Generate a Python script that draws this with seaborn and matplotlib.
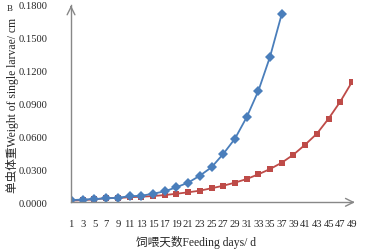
import matplotlib
matplotlib.use("Agg")
import matplotlib.pyplot as plt
import seaborn as sns
import pandas as pd

# feeding days (every other day shown on the axis)
days = [1, 3, 5, 7, 9, 11, 13, 15, 17, 19, 21, 23, 25, 27, 29, 31, 33, 35, 37,
        39, 41, 43, 45, 47, 49]

# blue series (diamonds), days 1-37
blue_days = days[:19]
blue_weight = [0.0020, 0.0025, 0.0030, 0.0035, 0.0042, 0.0055, 0.0060, 0.0078,
               0.0100, 0.0137, 0.0179, 0.0242, 0.0319, 0.0440, 0.0579, 0.0774,
               0.1014, 0.1326, 0.1715]

# red series (squares), days 1-49
red_weight = [0.0015, 0.0020, 0.0027, 0.0039, 0.0039, 0.0046, 0.0051, 0.0057,
              0.0066, 0.0078, 0.0091, 0.0106, 0.0128, 0.0151, 0.0179, 0.0212,
              0.0255, 0.0303, 0.0361, 0.0434, 0.0525, 0.0625, 0.0762, 0.0917,
              0.1096]

y_ticks = [0.0, 0.03, 0.06, 0.09, 0.12, 0.15, 0.18]

sns.set_style("white")
plt.rcParams['font.family'] = ['Liberation Serif', 'Noto Sans CJK SC']

fig = plt.figure(figsize=(3.68, 2.53), dpi=100)
ax = fig.add_axes([0.193, 0.1964, 0.7635, 0.7813])

blue_df = pd.DataFrame({'day': blue_days, 'weight': blue_weight})
red_df = pd.DataFrame({'day': days, 'weight': red_weight})

sns.lineplot(data=red_df, x='day', y='weight', ax=ax, color='#be4b48',
             marker='s', markersize=4.6, markeredgewidth=0, linewidth=1.3)
sns.lineplot(data=blue_df, x='day', y='weight', ax=ax, color='#4a7ebb',
             marker='D', markersize=4.6, markeredgewidth=0, linewidth=1.3)

ax.set_xlim(1, 49)
ax.set_ylim(0, 0.18)
ax.set_xticks(days)
ax.set_xticklabels([str(d) for d in days], fontsize=7.6)
ax.set_yticks(y_ticks)
ax.set_yticklabels(['%.4f' % v for v in y_ticks], fontsize=7.6)
ax.tick_params(axis='x', direction='inout', length=4, width=0.8,
               color='#888888', pad=10)
ax.tick_params(axis='y', length=0, pad=17)

for s in ['top', 'right']:
    ax.spines[s].set_visible(False)
for s in ['left', 'bottom']:
    ax.spines[s].set_color('#888888')
    ax.spines[s].set_linewidth(1.0)
    ax.spines[s].set_clip_on(False)

# arrow heads at axis ends
ax.annotate('', xy=(1.02, 0), xycoords='axes fraction', xytext=(0.99, 0),
            arrowprops=dict(arrowstyle='->', color='#888888', lw=1.0,
                            mutation_scale=14))
ax.annotate('', xy=(0, 1.01), xycoords='axes fraction', xytext=(0, 0.97),
            arrowprops=dict(arrowstyle='->', color='#888888', lw=1.0,
                            mutation_scale=14))

ax.set_xlabel('')
ax.set_ylabel('')
fig.text(0.533, 0.04, '饲喂天数Feeding days/ d', fontsize=8.4,
         ha='center', va='center')
fig.text(0.035, 0.585, '单虫体重Weight of single larvae/ cm', fontsize=8.4,
         ha='center', va='center', rotation=90)

fig.text(0.027, 0.965, 'B', fontsize=6.5, ha='center', va='center')

fig.savefig('out.png', dpi=100)
